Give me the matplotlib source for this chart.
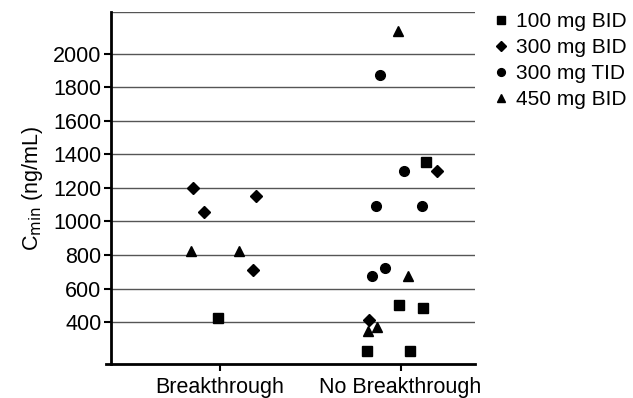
import matplotlib.pyplot as plt

plt.rcParams['font.family'] = ['Liberation Sans', 'DejaVu Sans']

# x positions: 1 = Breakthrough, 2 = No Breakthrough (with jitter)
categories = ['Breakthrough', 'No Breakthrough']

bid100_x = [0.99, 1.814, 2.05, 1.993, 2.125, 2.141]
bid100_y = [424, 230, 230, 501, 485, 1356]

bid300_x = [0.85, 0.913, 1.2, 1.186, 2.2, 1.828]
bid300_y = [1202, 1057, 1152, 709, 1303, 416]

tid300_x = [1.884, 2.02, 1.864, 2.12, 1.84, 1.913]
tid300_y = [1871, 1303, 1089, 1089, 677, 720]

bid450_x = [0.839, 1.107, 1.987, 2.04, 1.822, 1.868]
bid450_y = [822, 822, 2134, 677, 350, 370]

yticks = [400, 600, 800, 1000, 1200, 1400, 1600, 1800, 2000]

fig = plt.figure(figsize=(6.33, 3.98), dpi=100)
ax = fig.add_axes([0.167, 0.085, 0.583, 0.886])

ax.set_xlim(0.37, 2.41)
ax.set_ylim(150, 2250)

# horizontal grid lines, starting at the y axis
ax.hlines(yticks + [2250], 0.4, 2.41, color='#555555', linewidth=1.0, zorder=1)

kw = dict(linestyle='none', color='black', zorder=3)
ax.plot(bid100_x, bid100_y, marker='s', markersize=6.5, label='100 mg BID', **kw)
ax.plot(bid300_x, bid300_y, marker='D', markersize=6.5, label='300 mg BID', **kw)
ax.plot(tid300_x, tid300_y, marker='o', markersize=7, label='300 mg TID', **kw)
ax.plot(bid450_x, bid450_y, marker='^', markersize=7, label='450 mg BID', **kw)

for side in ['top', 'right']:
    ax.spines[side].set_visible(False)
ax.spines['left'].set_position(('data', 0.4))
ax.spines['left'].set_linewidth(2)
ax.spines['bottom'].set_linewidth(2)

ax.set_yticks(yticks)
ax.set_xticks([1, 2])
ax.set_xticklabels(categories)
ax.tick_params(axis='both', labelsize=15.5, width=1.5, color='black')
ax.tick_params(axis='y', length=5, pad=2)
ax.tick_params(axis='x', length=5, pad=4)

ax.set_ylabel('C$_{\\mathrm{min}}$ (ng/mL)', fontsize=15.5, labelpad=6)

fig.legend(loc='upper left', bbox_to_anchor=(0.77, 0.99), frameon=False,
           fontsize=15, handlelength=0.5, handletextpad=0.45, labelspacing=0.33,
           markerscale=0.8, borderaxespad=0)

fig.savefig('out.png', dpi=100)
